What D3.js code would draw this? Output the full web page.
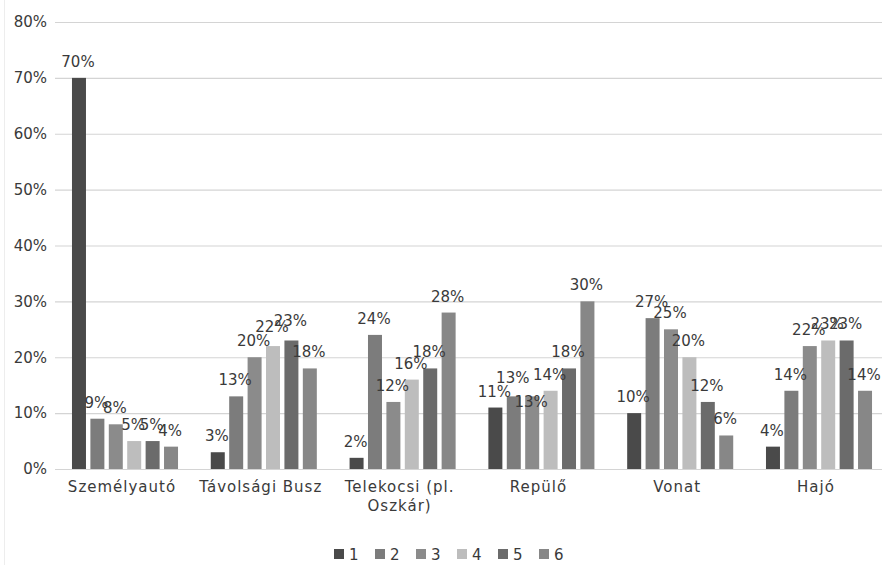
<!DOCTYPE html>
<html>
<head>
<meta charset="utf-8">
<script src="https://cdn.jsdelivr.net/npm/d3@7"></script>
<style>
  html, body { margin: 0; padding: 0; background: #fff; }
  svg { display: block; }
  text { font-family: "DejaVu Sans", sans-serif; fill: #3a3a3a; }
</style>
</head>
<body>
<svg id="chart" width="882" height="565"></svg>
<script>
// Transport modes (categories) and rating groups 1–6 (series)
const categories = ["Személyautó", "Távolsági Busz", "Telekocsi (pl. Oszkár)", "Repülő", "Vonat", "Hajó"];
const seriesNames = ["1", "2", "3", "4", "5", "6"];

// Share of answers per series, in percent, one array per series (indexed by category)
const s1 = [70, 3, 2, 11, 10, 4];
const s2 = [9, 13, 24, 13, 27, 14];
const s3 = [8, 20, 12, 13, 25, 22];
const s4 = [5, 22, 16, 14, 20, 23];
const s5 = [5, 23, 18, 18, 12, 23];
const s6 = [4, 18, 28, 30, 6, 14];
const seriesValues = [s1, s2, s3, s4, s5, s6];

const yTicks = [0, 10, 20, 30, 40, 50, 60, 70, 80];

const colors = ["#4a4a4a", "#7c7c7c", "#8b8b8b", "#bdbdbd", "#6b6b6b", "#878787"];

// Small manual label nudges (category index, series index) -> extra dy in px
const labelNudge = { "3-2": 22, "3-1": -2, "1-3": -3, "1-4": -3 };

const svg = d3.select("#chart");

// faint chart-area edge on the left
svg.append("line")
  .attr("x1", 4.5).attr("x2", 4.5).attr("y1", 0).attr("y2", 565)
  .attr("stroke", "#ededed").attr("stroke-width", 1);

const plotLeft = 55.6, plotRight = 888.4, plotTop = 22, plotBottom = 469;

const x = d3.scaleBand()
  .domain(categories)
  .range([plotLeft, plotRight])
  .paddingInner(0.236)
  .paddingOuter(0.118);

const xInner = d3.scaleBand()
  .domain(seriesNames)
  .range([0, x.bandwidth()])
  .paddingInner(0.24);

const y = d3.scaleLinear().domain([0, 80]).range([plotBottom, plotTop]);

// gridlines + y tick labels through a d3 axis
const yAxis = d3.axisLeft(y)
  .tickValues(yTicks)
  .tickSize(-(plotRight - plotLeft))
  .tickPadding(9)
  .tickFormat(d => d + "%");

const gy = svg.append("g")
  .attr("transform", `translate(${plotLeft - 0.6},0)`)
  .call(yAxis);
gy.select(".domain").remove();
gy.selectAll(".tick line").attr("stroke", "#d4d4d4").attr("stroke-width", 1.2);
gy.selectAll(".tick text")
  .attr("x", -8)
  .style("font-family", "'DejaVu Sans', sans-serif")
  .style("font-size", "15px")
  .attr("fill", "#3a3a3a");

// bars
const rows = [];
categories.forEach((c, ci) => {
  seriesNames.forEach((s, si) => {
    rows.push({ cat: c, ci, ser: s, si, value: seriesValues[si][ci] });
  });
});

svg.append("g").selectAll("rect")
  .data(rows)
  .join("rect")
  .attr("x", d => x(d.cat) + xInner(d.ser))
  .attr("width", xInner.bandwidth())
  .attr("y", d => y(d.value))
  .attr("height", d => y(0) - y(d.value))
  .attr("fill", d => colors[d.si]);

// value labels above the bars
svg.append("g").selectAll("text")
  .data(rows)
  .join("text")
  .attr("x", d => x(d.cat) + xInner(d.ser) + xInner.bandwidth() / 2 - 1)
  .attr("y", d => y(d.value) - 11 + (labelNudge[d.ci + "-" + d.si] || 0))
  .attr("text-anchor", "middle")
  .style("font-size", "15px")
  .text(d => d.value + "%");

// category labels (wrapped where they are long)
const catLines = {
  "Telekocsi (pl. Oszkár)": ["Telekocsi (pl.", "Oszkár)"]
};
const gx = svg.append("g");
categories.forEach(c => {
  const lines = catLines[c] || [c];
  const t = gx.append("text")
    .attr("x", x(c) + x.bandwidth() / 2 - 3)
    .attr("y", 492)
    .attr("text-anchor", "middle")
    .style("font-size", "15px")
    .style("letter-spacing", "1px");
  lines.forEach((ln, i) => {
    t.append("tspan")
      .attr("x", x(c) + x.bandwidth() / 2 - 3)
      .attr("dy", i === 0 ? 0 : 19)
      .text(ln);
  });
});

// legend
const legend = svg.append("g").attr("transform", "translate(334,0)");
const legendStep = 41;
seriesNames.forEach((s, i) => {
  const g = legend.append("g").attr("transform", `translate(${i * legendStep},0)`);
  g.append("rect")
    .attr("x", 0).attr("y", 549)
    .attr("width", 10).attr("height", 10)
    .attr("fill", colors[i]);
  g.append("text")
    .attr("x", 15).attr("y", 559.5)
    .style("font-size", "15px")
    .text(s);
});
</script>
</body>
</html>
